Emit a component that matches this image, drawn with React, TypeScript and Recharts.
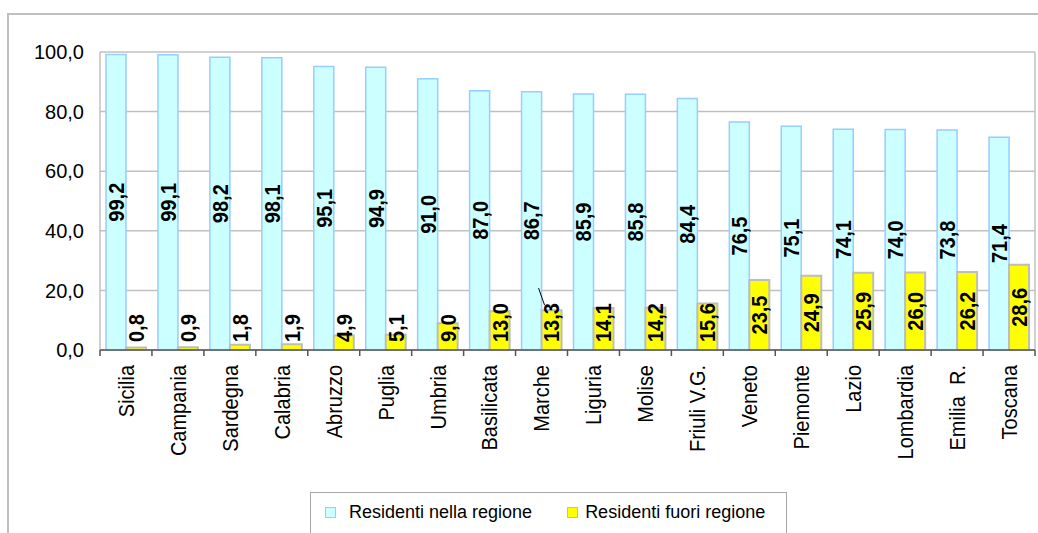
import React from 'react';
import { BarChart, Bar, XAxis, YAxis, CartesianGrid, LabelList, Legend } from 'recharts';

const categories = ['Sicilia', 'Campania', 'Sardegna', 'Calabria', 'Abruzzo', 'Puglia', 'Umbria', 'Basilicata', 'Marche', 'Liguria', 'Molise', 'Friuli V.G.', 'Veneto', 'Piemonte', 'Lazio', 'Lombardia', 'Emilia  R.', 'Toscana'];
const residentiNella = [99.2, 99.1, 98.2, 98.1, 95.1, 94.9, 91.0, 87.0, 86.7, 85.9, 85.8, 84.4, 76.5, 75.1, 74.1, 74.0, 73.8, 71.4];
const residentiFuori = [0.8, 0.9, 1.8, 1.9, 4.9, 5.1, 9.0, 13.0, 13.3, 14.1, 14.2, 15.6, 23.5, 24.9, 25.9, 26.0, 26.2, 28.6];
const yTicks = [0, 20, 40, 60, 80, 100];
const seriesNames = ['Residenti nella regione', 'Residenti fuori regione'];
const leaderLineCategories = ['Marche'];

const data = categories.map((c, i) => ({ name: c, nella: residentiNella[i], fuori: residentiFuori[i] }));

const FONT = '"Liberation Sans", Arial, sans-serif';
const fmt = (v: number) => v.toFixed(1).replace('.', ',');
const LABEL_SIZE = 20;
const STRETCH = 1.12;
const textLen = (s: string) => {
  let w = 0;
  for (const ch of s) w += ch === ',' ? 0.278 : 0.556;
  return w * LABEL_SIZE;
};

const BarLabel = (clamp: boolean) => (props: any) => {
  const { x, y, width, height, value, index } = props;
  const s = fmt(Number(value));
  const cx = x + width / 2;
  const base = y + height;
  let cy = y + height / 2;
  const len = textLen(s);
  if (clamp) cy = Math.min(cy, base - 8 - len / 2);
  const top = cy - len / 2;
  const showLeader = clamp && leaderLineCategories.includes(categories[index]);
  return (
    <g>
      {showLeader && (
        <line x1={cx - 7} y1={top + 2} x2={cx - 13} y2={top - 15} stroke="#000" strokeWidth={1} />
      )}
      <text
        x={0}
        y={0}
        transform={`translate(${cx}, ${cy}) rotate(-90) scale(1, ${STRETCH})`}
        textAnchor="middle"
        dominantBaseline="central"
        fontSize={LABEL_SIZE}
        fontWeight="bold"
        fontFamily={FONT}
        fill="#000"
      >
        {s}
      </text>
    </g>
  );
};

const CategoryTick = (props: any) => {
  const { x, y, payload, index, width } = props;
  const half = payload && payload.offset ? payload.offset : width / categories.length / 2;
  const isLast = index === categories.length - 1;
  const ty = y + 15;
  return (
    <g>
      <line x1={x - half} y1={y} x2={x - half} y2={y + 6} stroke="#555" strokeWidth={1.5} />
      {isLast && <line x1={x + half} y1={y} x2={x + half} y2={y + 6} stroke="#555" strokeWidth={1.5} />}
      <text
        x={0}
        y={0}
        transform={`translate(${x}, ${ty}) rotate(-90) scale(1, ${STRETCH})`}
        textAnchor="end"
        dominantBaseline="central"
        fontSize={20}
        fontFamily={FONT}
        fill="#000"
        style={{ whiteSpace: 'pre' }}
      >
        {payload.value}
      </text>
    </g>
  );
};

const LegendBox = () => (
  <div
    style={{
      boxSizing: 'border-box',
      width: 477,
      height: 60,
      border: '1px solid #A6A6A6',
      background: '#fff',
      paddingTop: 10,
      paddingLeft: 14,
      display: 'flex',
      alignItems: 'center',
      fontFamily: FONT,
      fontSize: 18,
      color: '#000',
    }}
  >
    <div style={{ display: 'flex', alignItems: 'center', height: 20, marginTop: -30 }}>
      <span style={{ display: 'inline-block', width: 9, height: 9, background: '#CCFFFF', border: '1.5px solid #99CCFF', marginRight: 13 }} />
      <span style={{ marginRight: 35 }}>{seriesNames[0]}</span>
      <span style={{ display: 'inline-block', width: 9, height: 9, background: '#FFFF00', border: '1.5px solid #BDBDBD', marginRight: 7 }} />
      <span>{seriesNames[1]}</span>
    </div>
  </div>
);

export default function App() {
  return (
    <div style={{ position: 'fixed', left: 0, top: 0, width: 1038, height: 533, overflow: 'hidden', background: '#fff' }}>
      <div
        style={{
          position: 'absolute',
          left: 7,
          top: 13,
          width: 1060,
          height: 560,
          border: '2px solid #BFBFBF',
          boxSizing: 'border-box',
        }}
      />
      <div style={{ position: 'absolute', left: 0, top: 0 }}>
        <BarChart
          width={1038}
          height={533}
          data={data}
          margin={{ top: 52, right: 3, left: 0, bottom: 0 }}
          barSize={20}
          barGap={0}
        >
          <CartesianGrid
            stroke="#C0C0C0"
            strokeWidth={1.5}
            verticalCoordinatesGenerator={(p: any) => [p.offset.left, p.offset.left + p.offset.width]}
          />
          <XAxis
            dataKey="name"
            type="category"
            height={183}
            interval={0}
            tickLine={false}
            tickSize={0}
            tickMargin={0}
            axisLine={{ stroke: '#555', strokeWidth: 1.5 }}
            tick={<CategoryTick />}
          />
          <YAxis
            width={100}
            domain={[0, 100]}
            ticks={yTicks}
            axisLine={false}
            tickLine={false}
            tickSize={6}
            tickMargin={10}
            tickFormatter={(v: number) => fmt(v)}
            tick={{ fontSize: 20, fontFamily: FONT, fill: '#000' }}
          />
          <Legend
            layout="horizontal"
            verticalAlign="middle"
            align="center"
            wrapperStyle={{ position: 'absolute', left: 310, top: 492, width: 477 }}
            content={() => <LegendBox />}
          />
          <Bar dataKey="nella" name={seriesNames[0]} fill="#CCFFFF" stroke="#99CCFF" strokeWidth={1.5} isAnimationActive={false}>
            <LabelList dataKey="nella" content={BarLabel(false)} />
          </Bar>
          <Bar dataKey="fuori" name={seriesNames[1]} fill="#FFFF00" stroke="#BDBDBD" strokeWidth={2} isAnimationActive={false}>
            <LabelList dataKey="fuori" content={BarLabel(true)} />
          </Bar>
        </BarChart>
      </div>
    </div>
  );
}
